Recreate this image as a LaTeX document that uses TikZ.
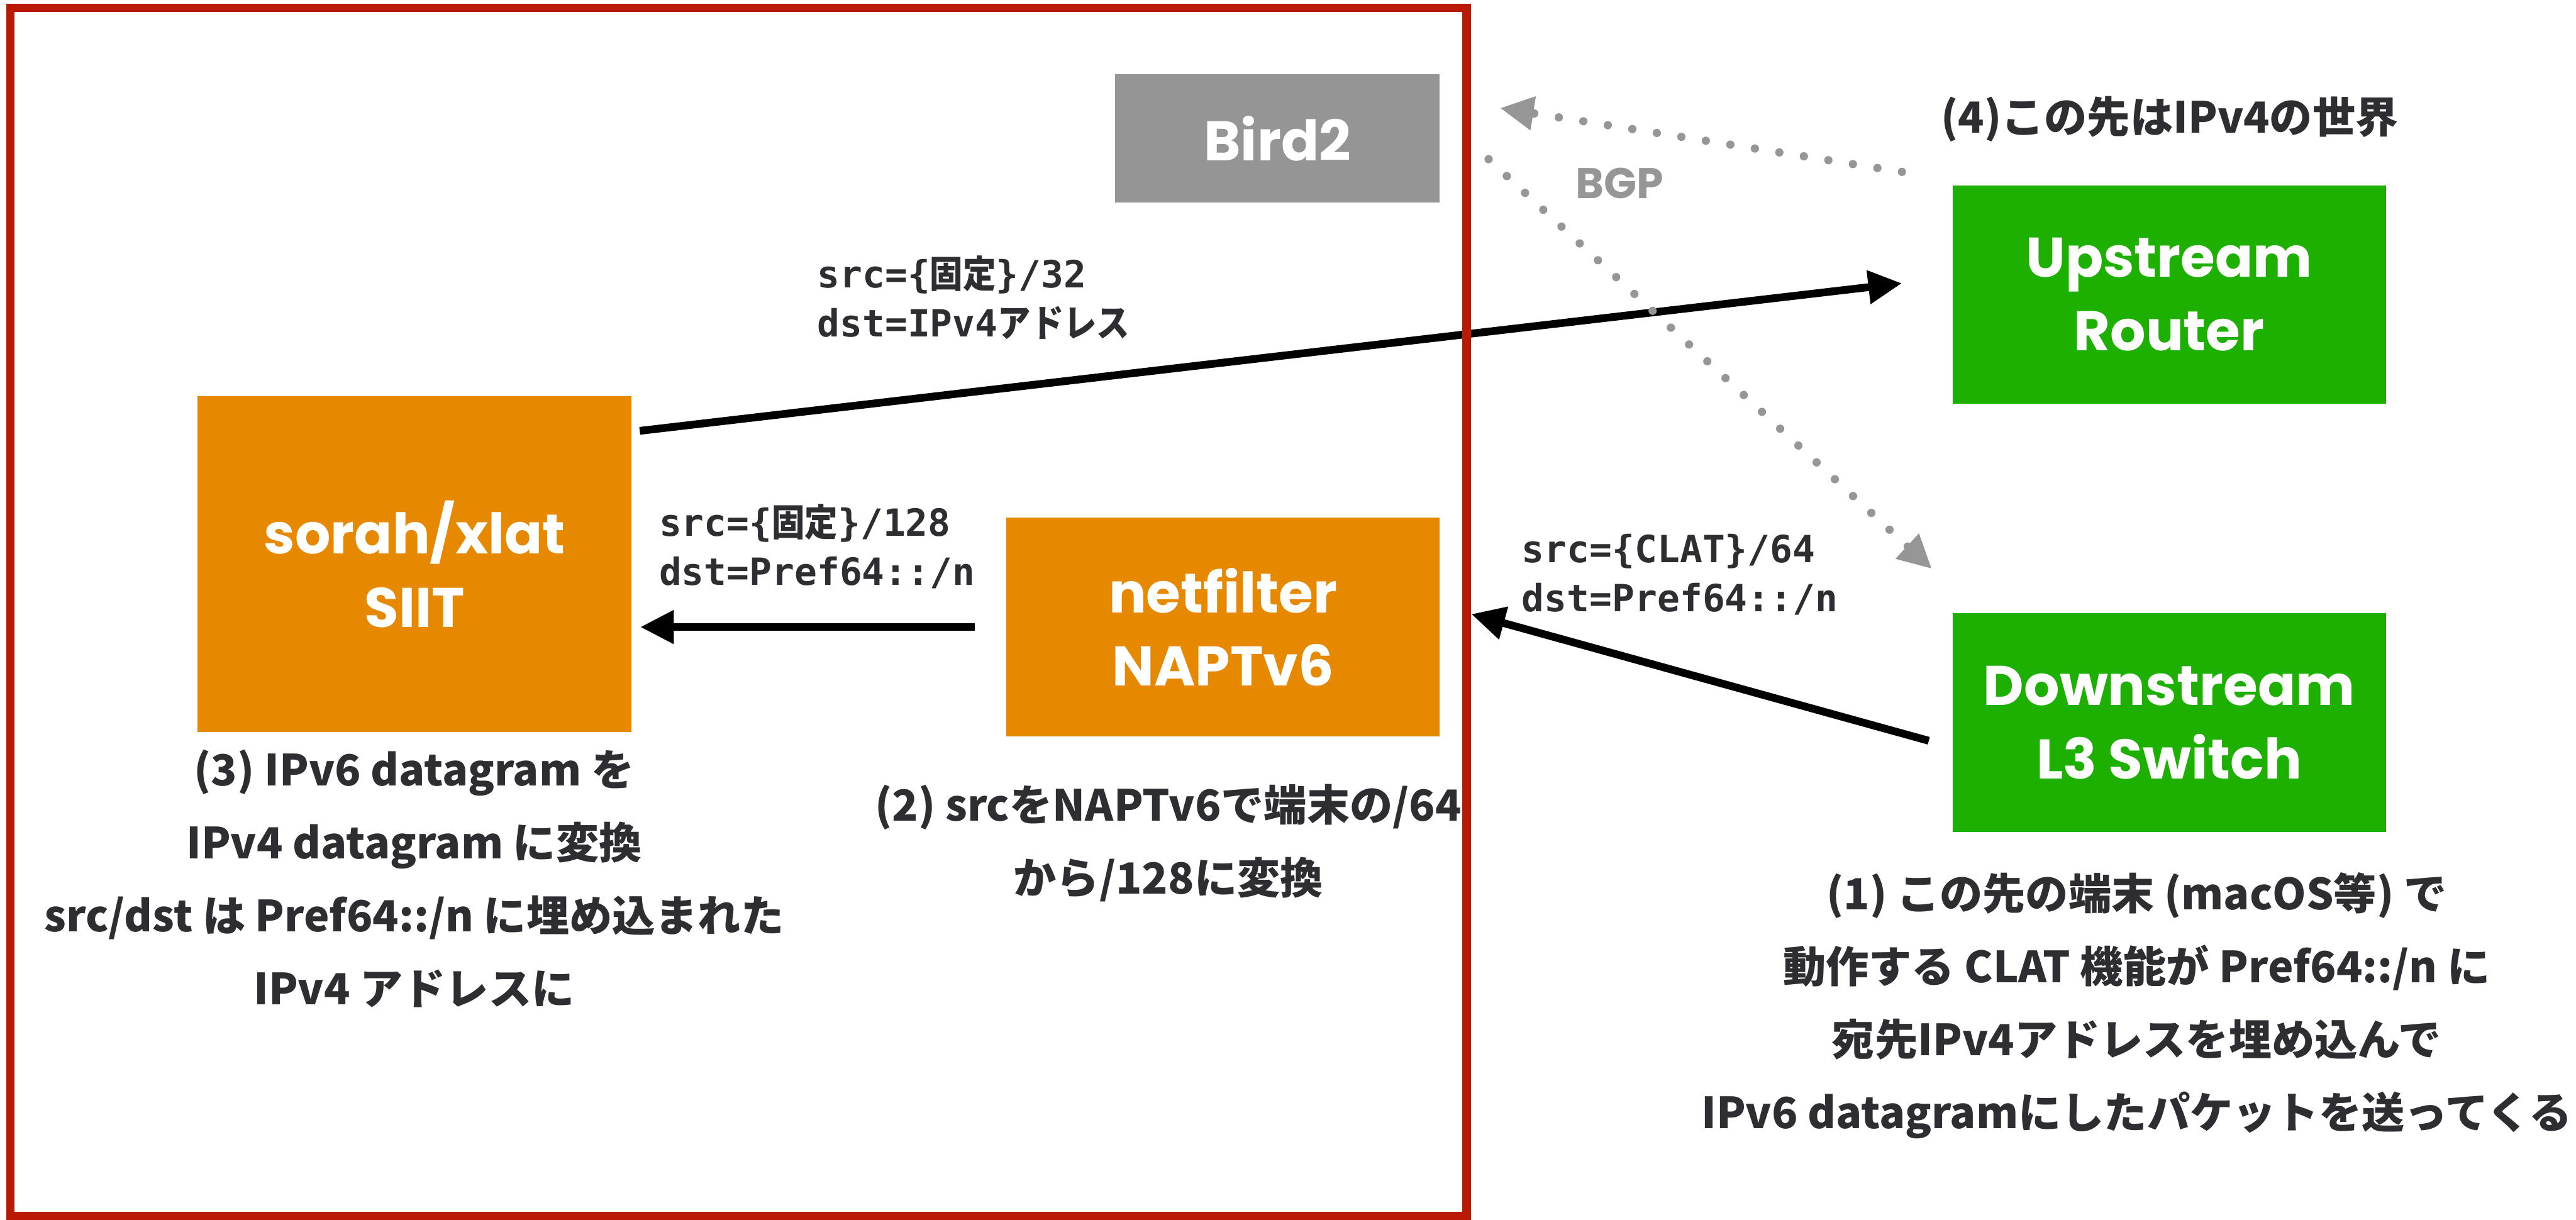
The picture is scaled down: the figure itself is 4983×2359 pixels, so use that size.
\documentclass[tikz,border=0pt]{standalone}
\usepackage{fontspec}
\setmainfont{Poppins}
\newfontfamily\jp{Noto Sans CJK JP}
\newfontfamily\mono{DejaVu Sans Mono}
\newfontfamily\jpmono{Noto Sans CJK JP}[FakeStretch=0.88]
\usetikzlibrary{arrows.meta,calc}

\definecolor{frameRed}{RGB}{185,25,5}
\definecolor{birdGray}{RGB}{149,149,149}
\definecolor{boxOrange}{RGB}{230,136,0}
\definecolor{boxGreen}{RGB}{30,176,0}
\definecolor{dotGray}{RGB}{150,150,150}
\definecolor{ink}{RGB}{46,46,50}

% Japanese glyphs inside monospaced labels
\newcommand\jm[1]{{\jpmono\bfseries #1}}

\begin{document}
\begin{tikzpicture}[x=0.2pt,y=-0.2pt,
  boxlabel/.style={inner sep=0pt, text=white, align=center,
    font=\fontsize{21.6pt}{28.4pt}\selectfont\bfseries},
  bigbox/.style={boxlabel, minimum width=167.6pt, minimum height=84.6pt},
  tallbox/.style={boxlabel, minimum width=167.8pt, minimum height=129.8pt},
  birdbox/.style={boxlabel, minimum width=125.4pt, minimum height=49.6pt},
  addr/.style={inner sep=0pt, anchor=west, align=left, text=ink,
    font=\mono\bfseries\fontsize{14.5pt}{19pt}\selectfont},
  note/.style={inner sep=0pt, align=center, text=ink,
    font=\jp\bfseries\fontsize{16.6pt}{28.2pt}\selectfont},
  flow/.style={draw=black, line width=3pt,
    -{Triangle[length=13pt,width=12.4pt]}},
  bgp/.style={draw=dotGray, line width=3.2pt, line cap=round,
    dash pattern=on 0pt off 9.6pt,
    -{Triangle[length=13pt,width=12.4pt,fill=dotGray]}}
]
\useasboundingbox (0,0) rectangle (4983,2359);

% devices
\node[birdbox, fill=birdGray]   (bird) at (2471,268)  {Bird2};
\node[bigbox,  fill=boxGreen]   (up)   at (4196,570)  {Upstream\\Router};
\node[bigbox,  fill=boxGreen]   (down) at (4196,1398) {Downstream\\L3 Switch};
\node[tallbox, fill=boxOrange]  (siit) at (802,1091)  {sorah/xlat\\SIIT};
\node[bigbox,  fill=boxOrange]  (napt) at (2366,1213) {netfilter\\NAPTv6};

% packet flow
\draw[flow] ($(siit.north east)+(15,68)$) -- ($(up.west)+(-97,-22)$);
\draw[flow, shorten <=12pt, shorten >=3.2pt] (napt.west) -- (siit.east |- napt.west);
\draw[flow] ($(down.west)+(-45,35)$) -- ($(napt.east)+(60,-25)$);

% BGP sessions
\draw[bgp] ($(up.north west)+(-97,-25)$) -- ($(bird.east)+(116,-59)$);
\draw[bgp] ($(bird.east)+(94,40)$) -- ($(down.north west)+(-39,-85)$);
\node[text=dotGray, inner sep=0pt, font=\fontsize{16.6pt}{20pt}\selectfont\bfseries]
  (bgplabel) at (3133,354) {BGP};

% address labels
\node[addr] (addrUp) at (1580,575) {src=\{\jm{固定}\}/32\\dst=IPv4\jm{アドレス}};
\node[addr] (addrSiit) at (1274,1057) {src=\{\jm{固定}\}/128\\dst=Pref64::/n};
\node[addr] (addrNapt) at (2943,1111) {src=\{CLAT\}/64\\dst=Pref64::/n};

% notes
\node[note] (world) at (4197,230) {(4)この先はIPv4の世界};
\node[note] (note3) at (801,1700)
  {(3) IPv6 datagram を\\IPv4 datagram に変換\\src/dst は Pref64::/n に埋め込まれた\\IPv4 アドレスに};
\node[note] (note2) at (2260,1631) {(2) srcをNAPTv6で端末の/64\\から/128に変換};
\node[note] (note1) at (4133,1945)
  {(1) この先の端末 (macOS等) で\\動作する CLAT 機能が Pref64::/n に\\宛先IPv4アドレスを埋め込んで\\IPv6 datagramにしたパケットを送ってくる};

% host boundary
\draw[frameRed, line width=3.2pt] (20,15) rectangle (2837,2352);
\end{tikzpicture}
\end{document}
